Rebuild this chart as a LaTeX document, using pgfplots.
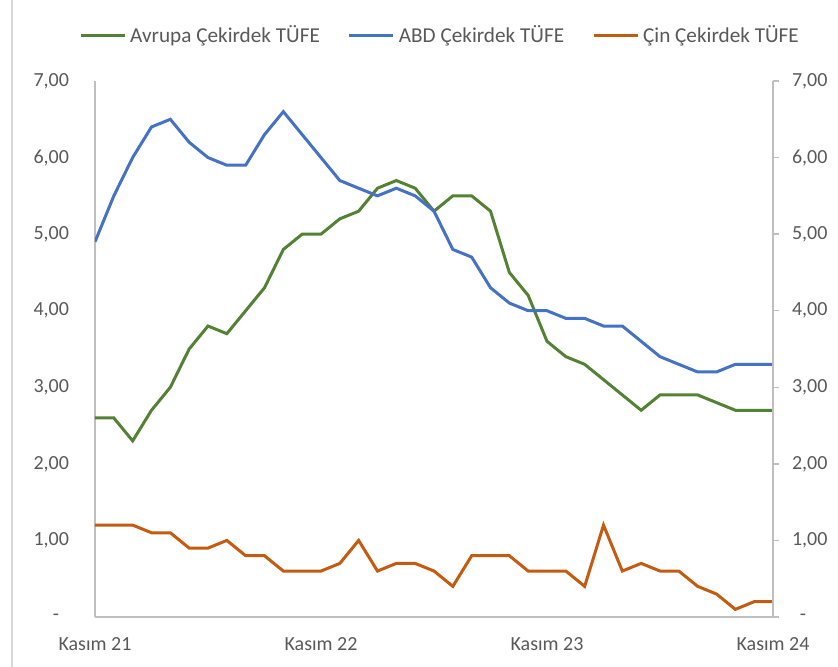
\documentclass[border=0pt]{standalone}
\usepackage{pgfplots}
\pgfplotsset{compat=1.18}
\usepackage{fontspec}
\setmainfont{Carlito}

\definecolor{avr}{HTML}{548235}
\definecolor{abd}{HTML}{4472C4}
\definecolor{cin}{HTML}{C55A11}
\definecolor{lbl}{HTML}{595959}
\definecolor{axl}{HTML}{BFBFBF}
\definecolor{frm}{HTML}{D9D9D9}

% monthly core CPI, Kasim 21 .. Kasim 24
\pgfplotstableread{
i  avr  abd  cin
0  2.6  4.9  1.2
1  2.6  5.5  1.2
2  2.3  6.0  1.2
3  2.7  6.4  1.1
4  3.0  6.5  1.1
5  3.5  6.2  0.9
6  3.8  6.0  0.9
7  3.7  5.9  1.0
8  4.0  5.9  0.8
9  4.3  6.3  0.8
10 4.8  6.6  0.6
11 5.0  6.3  0.6
12 5.0  6.0  0.6
13 5.2  5.7  0.7
14 5.3  5.6  1.0
15 5.6  5.5  0.6
16 5.7  5.6  0.7
17 5.6  5.5  0.7
18 5.3  5.3  0.6
19 5.5  4.8  0.4
20 5.5  4.7  0.8
21 5.3  4.3  0.8
22 4.5  4.1  0.8
23 4.2  4.0  0.6
24 3.6  4.0  0.6
25 3.4  3.9  0.6
26 3.3  3.9  0.4
27 3.1  3.8  1.2
28 2.9  3.8  0.6
29 2.7  3.6  0.7
30 2.9  3.4  0.6
31 2.9  3.3  0.6
32 2.9  3.2  0.4
33 2.8  3.2  0.3
34 2.7  3.3  0.1
35 2.7  3.3  0.2
36 2.7  3.3  0.2
}\data

\begin{document}
\begin{tikzpicture}[font=\fontsize{10}{12}\selectfont]
\path[use as bounding box] (-47.5pt,-25pt) rectangle (371.5pt,308.5pt);
\draw[frm, line width=0.6pt] (-41.5pt,-25pt) -- (-41.5pt,308.5pt);

\begin{axis}[
    at={(0,0)}, anchor=south west,
    width=339pt, height=268pt, scale only axis,
    xmin=0, xmax=36, ymin=0, ymax=7,
    axis x line*=bottom, axis y line*=left,
    axis line style={axl, line width=0.7pt, -},
    xtick={0,12,24,36},
    xticklabels={Kasım 21,Kasım 22,Kasım 23,Kasım 24},
    ytick={0,1,...,7},
    yticklabels={\makebox[8pt][l]{-},{1,00},{2,00},{3,00},{4,00},{5,00},{6,00},{7,00}},
    major tick length=0pt,
    tick label style={text=lbl},
    yticklabel style={xshift=-9.5pt},
    xticklabel style={yshift=-6.5pt},
    legend columns=3,
    legend style={at={(0.5,1)}, anchor=center, yshift=23pt, xshift=3.5pt, draw=none,
        text=lbl, font=\fontsize{10.6}{12}\selectfont,
        /tikz/every even column/.append style={column sep=12pt}},
    legend image code/.code={\draw[#1] (0pt,0pt) -- (22pt,0pt);},
]
\addplot[avr, line width=1.5pt] table[x=i, y=avr] {\data};
\addlegendentry{Avrupa Çekirdek TÜFE}
\addplot[abd, line width=1.5pt] table[x=i, y=abd] {\data};
\addlegendentry{ABD Çekirdek TÜFE}
\addplot[cin, line width=1.5pt] table[x=i, y=cin] {\data};
\addlegendentry{Çin Çekirdek TÜFE}
\end{axis}

\begin{axis}[
    at={(0,0)}, anchor=south west,
    width=339pt, height=268pt, scale only axis,
    xmin=0, xmax=36, ymin=0, ymax=7,
    axis x line=none, axis y line*=right,
    axis line style={axl, line width=0.7pt, -},
    ytick={0,1,...,7},
    yticklabels={\makebox[7pt][r]{-},{1,00},{2,00},{3,00},{4,00},{5,00},{6,00},{7,00}},
    tick align=outside, major tick length=3pt,
    tick style={axl, line width=0.7pt},
    tick label style={text=lbl},
    yticklabel style={xshift=3pt},
]
\end{axis}
\end{tikzpicture}
\end{document}
